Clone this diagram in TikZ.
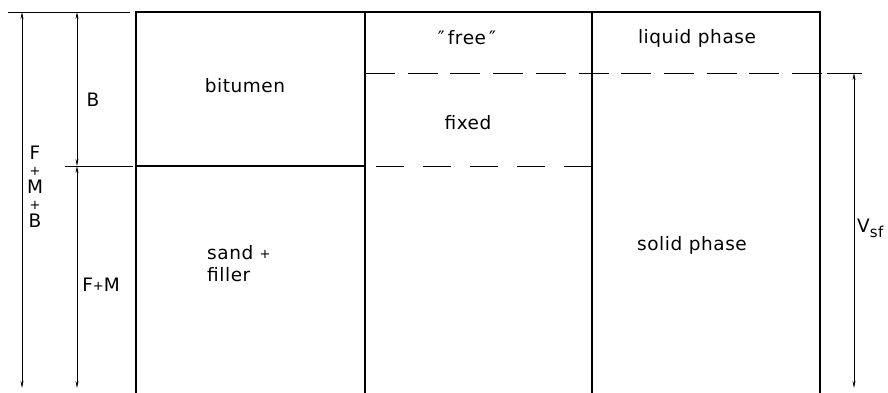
\documentclass[tikz,border=0pt]{standalone}
\usepackage{fontspec}
\setmainfont{DejaVu Sans}[LetterSpace=3]
\usetikzlibrary{arrows.meta}
\newcommand{\smplus}{{\fontsize{13}{13}\selectfont\raisebox{1pt}{+}}}
\begin{document}
\begin{tikzpicture}[x=1pt,y=-1pt,
  box/.style={line width=1.1pt},
  lead/.style={line width=0.6pt},
  dim/.style={line width=0.7pt,{Stealth[length=7pt,width=3pt]}-{Stealth[length=7pt,width=3pt]}},
  dsh/.style={line width=0.9pt,dash pattern=on 30pt off 12.7pt},
  lbl/.style={font=\fontsize{18.5}{21}\selectfont,inner sep=0pt}]
\useasboundingbox (0,0) rectangle (888,393);
% coordinates
\coordinate (c1t) at (136,12); \coordinate (c1b) at (136,393);
\coordinate (c2t) at (365,12); \coordinate (c2b) at (365,393);
\coordinate (c3t) at (592,12); \coordinate (c3b) at (592,393);
\coordinate (c4t) at (820,12); \coordinate (c4b) at (820,393);
\coordinate (mid1) at (136,166); \coordinate (mid2) at (365,166);
\coordinate (ll1) at (8,12); \coordinate (ll2) at (130,12);
\coordinate (lm1) at (65,166); \coordinate (lm2) at (133,166);
\coordinate (dA1) at (365,73); \coordinate (dA2) at (822,73);
\coordinate (lv1) at (827,73); \coordinate (lv2) at (862,73);
\coordinate (dB1) at (376,166); \coordinate (dB2) at (592,166);
\coordinate (a1t) at (22,12); \coordinate (a1b) at (22,388);
\coordinate (a2t) at (77,12); \coordinate (a2m) at (77,166); \coordinate (a2b) at (77,388);
\coordinate (a3t) at (854,73); \coordinate (a3b) at (854,388);
% box
\draw[box] (c1b) -- (c1t) -- (c4t) -- (c4b);
\draw[box] (c2t) -- (c2b);
\draw[box] (c3t) -- (c3b);
\draw[box] (mid1) -- (mid2);
\draw[dsh] (dA1) -- (dA2);
\draw[dsh,dash pattern=on 28pt off 19pt] (dB1) -- (dB2);
% leaders
\draw[lead] (ll1) -- (ll2);
\draw[lead] (lm1) -- (lm2);
\draw[lead] (lv1) -- (lv2);
% dimension arrows
\draw[dim] (a1t) -- (a1b);
\draw[dim] (a2t) -- (a2m);
\draw[dim] (a2m) -- (a2b);
\draw[dim] (a3t) -- (a3b);
% labels
\node[lbl] (tB) at (93,100) {B};
\node[lbl,align=center] (tFMB) at (35,187) {F\\[-4pt]\smplus\\[-4pt]M\\[-4pt]\smplus\\[-4pt]B};
\node[lbl] (tFM) at (101,285) {F\smplus M};
\node[lbl] (tbit) at (245,86) {bitumen};
\node[lbl,align=left,anchor=west] (tsand) at (207,264) {sand \smplus\\[1pt]filler};
\node[lbl] (tfree) at (467,38) {″\,free\,″};
\node[lbl] (tfix) at (468,123) {fixed};
\node[lbl] (tliq) at (697,38) {liquid phase};
\node[lbl] (tsol) at (692,245) {solid phase};
\node[lbl,anchor=west] (tV) at (857,228) {V{\fontsize{15}{15}\selectfont\raisebox{-5pt}{sf}}};
\end{tikzpicture}
\end{document}
